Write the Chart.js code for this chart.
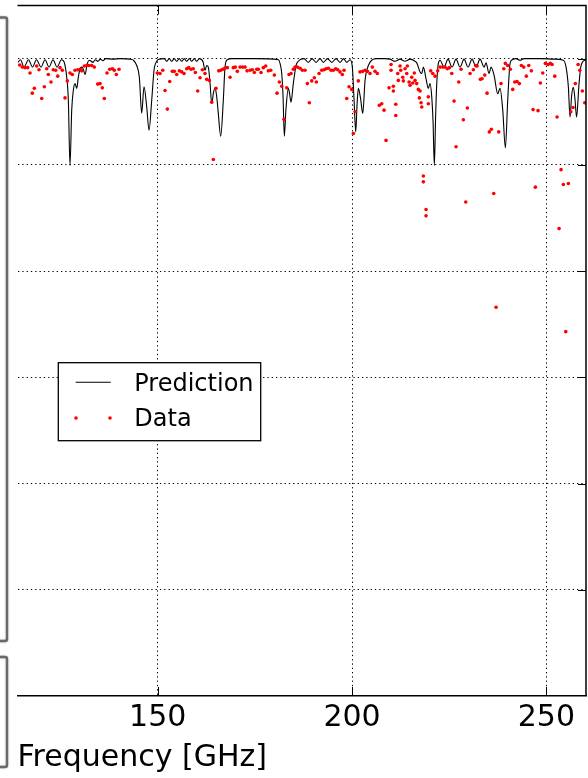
<!DOCTYPE html>
<html>
<head>
<meta charset="utf-8">
<script src="https://cdn.jsdelivr.net/npm/chart.js@4.4.1/dist/chart.umd.min.js"></script>
<style>
  html, body { margin: 0; padding: 0; background: #fff; }
  canvas { display: block; }
</style>
</head>
<body>
<canvas id="spectrum" width="588" height="778"></canvas>
<script>
// Modelled transmission (Prediction), frequency in GHz
const predFreq = [
  114.05,114.69,115.59,116.75,117.78,118.81,119.97,121.00,122.03,123.06,124.09,125.24,
  125.89,126.58,127.00,127.43,127.87,128.28,128.72,129.16,129.57,130.00,130.44,130.85,131.29,131.88,132.40,
  133.35,133.90,134.64,135.20,135.92,136.60,138.50,140.30,142.87,
  143.72,144.60,145.27,145.88,146.47,147.17,147.76,148.46,149.05,149.74,150.41,
  151.67,152.32,152.96,153.60,154.25,154.89,155.53,156.18,156.82,157.46,158.11,158.75,159.39,160.04,160.68,
  161.66,162.17,162.61,163.02,163.45,163.90,164.32,164.74,165.15,165.52,166.21,166.88,167.32,167.91,169.12,175.00,
  181.03,181.47,181.91,182.24,182.58,183.00,183.61,183.97,184.30,184.89,185.59,186.18,186.80,
  187.65,188.75,189.71,190.74,191.76,192.61,193.70,194.78,195.89,196.92,197.81,198.64,199.49,
  200.08,200.52,200.95,201.30,201.62,202.19,202.76,203.35,204.20,205.07,206.36,208.50,
  209.77,211.05,212.34,213.63,214.92,216.21,
  216.65,217.50,217.94,218.35,219.04,219.63,220.07,220.51,220.85,221.18,221.50,221.80,222.21,222.65,
  223.67,224.70,225.73,226.76,227.79,228.82,229.85,230.88,231.91,232.94,233.97,
  234.48,235.25,235.77,236.54,237.49,238.08,238.78,239.45,240.06,240.66,241.25,
  242.20,243.23,244.26,248.40,252.00,254.37,
  255.07,255.66,256.09,256.50,256.94,257.35,257.77,258.41,258.85,259.36,260.14
];
const predVal = [
  0.993,0.998,0.984,0.998,0.984,0.998,0.984,0.998,0.984,0.998,0.984,0.998,
  0.994,0.965,0.922,0.799,0.903,0.940,0.953,0.944,0.965,0.981,0.984,0.980,0.970,0.991,0.997,
  0.993,0.998,0.995,0.999,0.996,1.000,0.999,1.000,0.999,
  0.997,0.987,0.965,0.897,0.947,0.909,0.865,0.922,0.978,0.995,0.999,
  1.000,0.995,1.000,0.995,1.000,0.995,1.000,0.995,1.000,0.995,1.000,0.995,1.000,0.995,1.000,
  0.994,0.978,0.987,0.984,0.955,0.915,0.935,0.945,0.930,0.903,0.854,0.922,0.984,0.998,1.000,1.000,
  0.998,0.991,0.972,0.930,0.854,0.905,0.944,0.932,0.918,0.953,0.987,0.995,0.999,
  1.000,0.993,1.000,0.993,1.000,0.993,1.000,0.993,1.000,0.993,1.000,0.993,0.998,
  0.984,0.922,0.862,0.915,0.944,0.925,0.897,0.959,0.987,0.997,1.000,1.000,
  0.999,0.995,0.999,0.995,0.999,0.995,
  0.992,0.975,0.972,0.984,0.962,0.944,0.953,0.928,0.880,0.799,0.890,0.953,0.991,0.997,
  0.984,0.999,0.984,0.999,0.984,0.999,0.984,0.999,0.984,0.999,0.984,
  0.992,0.972,0.984,0.969,0.934,0.944,0.903,0.832,0.922,0.991,0.998,
  1.000,0.997,1.000,1.000,0.999,0.997,
  0.984,0.947,0.890,0.930,0.946,0.925,0.890,0.953,0.984,0.994,0.998
];

// Measured transmission (Data)
const dataFreq = [
  114.49,115.16,115.85,116.55,117.14,117.73,118.25,118.86,119.45,120.15,120.82,121.44,121.85,122.54,
  123.13,123.75,124.27,124.86,125.45,126.15,126.74,127.43,128.02,128.72,129.41,130.08,130.44,131.11,
  131.73,132.32,133.02,133.68,134.56,135.15,135.74,136.26,136.95,137.65,138.32,138.83,139.35,140.04,
  149.90,150.59,151.29,151.88,152.47,153.09,153.76,154.27,154.89,155.56,156.18,156.77,157.46,157.98,
  158.57,159.16,159.68,160.29,160.89,161.48,162.17,162.61,163.28,163.90,164.31,165.00,165.70,166.21,
  166.73,167.24,167.91,168.61,169.45,169.97,170.48,171.18,171.87,172.47,172.98,
  173.75,174.34,174.86,175.48,175.89,176.58,177.17,177.79,178.46,179.08,180.01,180.70,181.29,181.91,
  182.50,183.20,183.79,184.30,184.89,185.33,185.92,186.62,187.21,187.91,188.50,189.01,189.63,190.30,
  190.81,191.51,192.20,192.79,193.31,193.90,194.60,195.19,195.81,196.32,196.91,197.50,197.94,198.64,
  199.23,199.92,200.33,200.77,201.62,
  202.06,202.75,203.35,203.94,204.63,205.22,205.92,206.51,207.03,207.64,208.23,208.75,209.52,210.04,
  210.04,210.63,210.63,211.25,211.25,211.76,211.91,212.35,212.53,213.05,213.20,213.64,214.08,214.23,
  214.67,214.92,215.36,215.62,216.03,216.21,216.65,217.06,217.32,217.50,217.76,217.94,218.35,218.35,
  219.04,219.04,219.63,219.63,220.25,220.77,221.36,222.05,222.65,223.34,223.93,224.52,225.04,225.66,
  226.25,226.76,227.46,228.05,228.64,229.26,229.67,230.37,231.21,231.83,
  232.17,233.02,233.45,234.15,234.74,235.33,235.85,236.46,237.06,237.75,238.34,239.04,239.45,240.07,
  240.74,241.35,241.87,242.46,243.05,243.57,244.18,244.85,245.47,246.14,246.58,247.17,247.86,248.46,
  249.07,249.74,250.44,251.03,251.47,252.16,252.75,253.27,253.78,254.37,254.99,255.66,256.28,256.87,
  257.46,258.16,258.60,259.26,259.88
];
const dataVal = [
  0.988,0.984,0.983,0.983,0.973,0.935,0.944,0.986,0.979,0.925,0.947,0.981,0.970,0.956,
  0.979,0.978,0.967,0.983,0.978,0.926,0.958,0.973,0.970,0.978,0.979,0.980,0.977,0.986,
  0.987,0.987,0.987,0.984,0.952,0.953,0.945,0.925,0.973,0.980,0.981,0.978,0.970,0.980,
  0.973,0.972,0.978,0.940,0.905,0.957,0.976,0.976,0.970,0.977,0.975,0.972,0.981,0.983,
  0.980,0.981,0.974,0.939,0.964,0.979,0.972,0.961,0.959,0.918,0.810,0.944,0.977,0.978,
  0.980,0.982,0.983,0.965,0.983,0.984,0.976,0.984,0.984,0.984,0.977,
  0.978,0.979,0.974,0.980,0.980,0.974,0.983,0.986,0.977,0.978,0.969,0.935,0.956,0.948,
  0.886,0.945,0.970,0.972,0.980,0.984,0.984,0.982,0.978,0.978,0.953,0.917,0.958,0.964,
  0.956,0.972,0.978,0.979,0.981,0.982,0.978,0.978,0.981,0.979,0.975,0.970,0.978,0.925,
  0.947,0.942,0.859,0.900,0.958,
  0.975,0.976,0.978,0.976,0.972,0.984,0.976,0.972,0.912,0.915,0.903,0.846,0.945,0.989,
  0.978,0.948,0.939,0.914,0.893,0.972,0.959,0.986,0.978,0.965,0.958,0.981,0.972,0.986,
  0.956,0.950,0.965,0.954,0.973,0.959,0.953,0.942,0.926,0.939,0.917,0.909,0.779,0.768,
  0.716,0.704,0.928,0.915,0.977,0.972,0.967,0.977,0.984,0.984,0.984,0.981,0.983,0.972,
  0.920,0.834,0.956,0.980,0.885,0.730,0.907,0.972,0.979,0.987,
  0.986,0.961,0.962,0.969,0.935,0.862,0.867,0.746,0.532,0.862,0.953,0.981,0.991,0.987,
  0.980,0.942,0.956,0.957,0.953,0.987,0.984,0.967,0.987,0.977,0.904,0.758,0.902,0.954,
  0.973,0.991,0.989,0.991,0.989,0.967,0.890,0.680,0.791,0.763,0.486,0.765,0.900,0.908,
  0.953,0.989,0.978,0.939,0.917
];

// Axis ticks / grid positions
const xTickValues = [150, 200, 250];
const yGridValues = [0.0, 0.2, 0.4, 0.6, 0.8, 1.0];
const legendOrder = ['Prediction', 'Data'];

const FONT = "'DejaVu Sans', 'Liberation Sans', sans-serif";

const toPoints = (xs, ys) => xs.map((x, i) => ({ x: x, y: ys[i] }));

// Edges of the neighbouring panels at the far left
const sidePanels = {
  id: 'sidePanels',
  beforeDraw(chart) {
    const ctx = chart.ctx;
    ctx.save();
    ctx.strokeStyle = 'rgba(95,95,95,0.9)';
    ctx.lineWidth = 2.4;
    ctx.shadowColor = 'rgba(0,0,0,0.35)';
    ctx.shadowBlur = 2;
    const boxes = [[-20, 17.5, 27, 623.5], [-20, 657, 27, 110]];
    boxes.forEach(([bx, by, bw, bh]) => {
      ctx.beginPath();
      if (ctx.roundRect) ctx.roundRect(bx, by, bw, bh, 2); else ctx.rect(bx, by, bw, bh);
      ctx.stroke();
    });
    ctx.restore();
  }
};

// Legend box drawn inside the plot
const legendBox = {
  id: 'legendBox',
  afterDatasetsDraw(chart) {
    const { ctx, chartArea: a } = chart;
    const bx = a.left + 40.8, by = a.top + 357.2, bw = 202.4, bh = 78;
    ctx.save();
    ctx.fillStyle = '#ffffff';
    ctx.fillRect(bx, by, bw, bh);
    ctx.strokeStyle = '#000000';
    ctx.lineWidth = 1.3;
    ctx.strokeRect(bx, by, bw, bh);
    ctx.font = '24px ' + FONT;
    ctx.textBaseline = 'alphabetic';
    ctx.textAlign = 'left';
    legendOrder.forEach((label, i) => {
      const ds = chart.data.datasets.find(d => d.label === label);
      const cy = by + 19.6 + i * 35.7;
      if (ds.showLine) {
        ctx.strokeStyle = ds.borderColor;
        ctx.lineWidth = ds.borderWidth;
        ctx.beginPath();
        ctx.moveTo(bx + 17.4, cy);
        ctx.lineTo(bx + 52.4, cy);
        ctx.stroke();
      } else {
        ctx.fillStyle = ds.pointBackgroundColor;
        [bx + 17.7, bx + 51.7].forEach(px => {
          ctx.beginPath();
          ctx.arc(px, cy, ds.pointRadius, 0, Math.PI * 2);
          ctx.fill();
        });
      }
      ctx.fillStyle = '#000000';
      ctx.fillText(label, bx + 76, cy + 8.4);
    });
    ctx.restore();
  }
};

// Top and right spines plus inward tick marks
const frame = {
  id: 'frame',
  afterDraw(chart) {
    const { ctx, chartArea: a, scales } = chart;
    const x = scales.x, y = scales.y;
    ctx.save();
    ctx.strokeStyle = '#000000';
    ctx.lineWidth = 1.5;
    ctx.beginPath();
    ctx.moveTo(a.left, a.top);
    ctx.lineTo(a.right, a.top);
    ctx.lineTo(a.right, a.bottom);
    ctx.stroke();
    ctx.lineWidth = 1;
    ctx.beginPath();
    x.ticks.forEach(t => {
      const px = Math.round(x.getPixelForValue(t.value)) + 0.5;
      ctx.moveTo(px, a.bottom); ctx.lineTo(px, a.bottom - 9);
      ctx.moveTo(px, a.top); ctx.lineTo(px, a.top + 9);
    });
    y.ticks.forEach(t => {
      const py = Math.round(y.getPixelForValue(t.value)) + 0.5;
      ctx.moveTo(a.right, py); ctx.lineTo(a.right - 8, py);
    });
    ctx.stroke();
    ctx.restore();
  }
};

new Chart(document.getElementById('spectrum'), {
  type: 'scatter',
  data: {
    datasets: [
      {
        label: 'Data',
        data: toPoints(dataFreq, dataVal),
        showLine: false,
        pointRadius: 1.8,
        pointBackgroundColor: '#ff0000',
        pointBorderWidth: 0,
        pointHoverRadius: 1.8,
        order: 0
      },
      {
        label: 'Prediction',
        data: toPoints(predFreq, predVal),
        showLine: true,
        borderColor: '#000000',
        borderWidth: 1.1,
        pointRadius: 0,
        pointHoverRadius: 0,
        cubicInterpolationMode: 'monotone',
        order: 1
      }
    ]
  },
  options: {
    responsive: false,
    animation: false,
    devicePixelRatio: 1,
    layout: { padding: { left: 17.5, right: 2, top: 5.5, bottom: 0 } },
    plugins: { legend: { display: false }, tooltip: { enabled: false } },
    scales: {
      x: {
        type: 'linear',
        position: 'bottom',
        min: 113.92,
        max: 260.2,
        afterBuildTicks: s => { s.ticks = xTickValues.map(v => ({ value: v })); },
        ticks: { color: '#000', font: { family: FONT, size: 30 }, padding: 4, maxRotation: 0 },
        grid: { color: '#000', lineWidth: 1, drawTicks: false },
        border: { display: true, color: '#000', width: 1.5, dash: [1.3, 3] },
        title: {
          display: true,
          text: 'Frequency [GHz]',
          align: 'start',
          color: '#000',
          font: { family: FONT, size: 30 },
          padding: { top: 0, bottom: 2 }
        }
      },
      y: {
        type: 'linear',
        min: -0.2,
        max: 1.1,
        afterBuildTicks: s => { s.ticks = yGridValues.map(v => ({ value: v })); },
        ticks: { display: false },
        grid: { color: '#000', lineWidth: 1, drawTicks: false },
        border: { display: false, dash: [1.3, 3] }
      }
    }
  },
  plugins: [sidePanels, legendBox, frame]
});
</script>
</body>
</html>
